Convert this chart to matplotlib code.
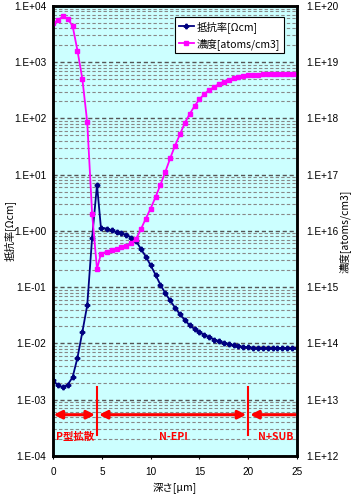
import matplotlib
matplotlib.use("Agg")
import matplotlib.pyplot as plt
import numpy as np
from matplotlib.ticker import LogLocator, FuncFormatter, NullFormatter

plt.rcParams['font.family'] = ['Noto Sans CJK JP', 'DejaVu Sans']

# =========================
# DATA
# =========================

depth = [0, 0.5, 1, 1.5, 2, 2.5, 3, 3.5, 4, 4.5, 4.9,
         5.5, 6, 6.5, 7, 7.5, 8, 8.5, 9, 9.5, 10,
         10.5, 11, 11.5, 12, 12.5, 13, 13.5, 14, 14.5, 15,
         15.5, 16, 16.5, 17, 17.5, 18, 18.5, 19, 19.5, 20,
         20.5, 21, 21.5, 22, 22.5, 23, 23.5, 24, 24.5, 25]

resistivity = [2.2e-3, 1.8e-3, 1.65e-3, 1.85e-3, 2.5e-3, 5.6e-3, 1.6e-2, 4.8e-2, 0.76, 6.6, 1.15,
               1.10, 1.02, 0.95, 0.91, 0.85, 0.76, 0.66, 0.48, 0.35, 0.245,
               0.166, 0.11, 0.078, 0.058, 0.043, 0.033, 0.026, 0.021, 0.018, 0.0158,
               0.0141, 0.0129, 0.0117, 0.011, 0.0102, 0.0098, 0.0093, 0.0089, 0.0087, 0.0085,
               0.0084, 0.0083, 0.0083, 0.0083, 0.0083, 0.0083, 0.0083, 0.0083, 0.0083, 0.0083]

concentration = [4.9e19, 5.6e19, 6.5e19, 5.9e19, 4.4e19, 1.6e19, 5.0e18, 8.5e17, 2.0e16, 2.1e15, 3.9e15,
                 4.3e15, 4.6e15, 4.8e15, 5.1e15, 5.5e15, 6.0e15, 7.2e15, 1.07e16, 1.66e16, 2.5e16,
                 4.0e16, 6.6e16, 1.12e17, 1.95e17, 3.3e17, 5.2e17, 8.3e17, 1.2e18, 1.66e18, 2.2e18,
                 2.7e18, 3.2e18, 3.6e18, 4.1e18, 4.5e18, 4.9e18, 5.2e18, 5.5e18, 5.75e18, 5.9e18,
                 6.0e18, 6.0e18, 6.1e18, 6.1e18, 6.2e18, 6.2e18, 6.2e18, 6.2e18, 6.2e18, 6.2e18]

region_bounds = [0, 4.5, 20, 25]
region_labels = ["P型拡散", "N-EPI", "N+SUB"]
region_label_x = [2.25, 12.3, 22.8]

# =========================
# FIGURE
# =========================

tickfont = ['Liberation Sans', 'DejaVu Sans']

fig = plt.figure(figsize=(3.54, 4.95), dpi=100)
ax = fig.add_axes([0.150, 0.079, 0.689, 0.909])
ax.set_facecolor('#CCFFFF')

fmt = FuncFormatter(lambda v, p: "1.E%+03d" % int(round(np.log10(v))))

ax.set_yscale('log')
ax.set_ylim(1e-4, 1e4)
ax.set_xlim(0, 25)
ax.set_xticks([0, 5, 10, 15, 20, 25])
ax.yaxis.set_major_locator(LogLocator(base=10, numticks=20))
ax.yaxis.set_minor_locator(LogLocator(base=10, subs=np.arange(2, 10), numticks=20))
ax.yaxis.set_major_formatter(fmt)
ax.yaxis.set_minor_formatter(NullFormatter())

ax.grid(True, which='major', axis='y', color='#555555', linestyle=(0, (3, 2)), linewidth=1.0)
ax.grid(True, which='minor', axis='y', color='#888888', linestyle=(0, (3, 2)), linewidth=0.8)
ax.set_axisbelow(True)

ax.tick_params(axis='both', which='both', labelsize=7.2, length=0, pad=5,
               labelfontfamily=tickfont)
ax.tick_params(axis='x', length=2, direction='out', pad=6)

for s in ax.spines.values():
    s.set_linewidth(1.8)
    s.set_color('black')

line1, = ax.plot(depth, resistivity, color='#000080', marker='P', markersize=3.2,
                 linewidth=1.3, label='抵抗率[Ωcm]')

# region markers
arrow_y = 5.4e-4
for xb in region_bounds[1:3]:
    ax.plot([xb, xb], [1.7e-3, 2.35e-4], color='red', linewidth=1.5)

arrow_kw = dict(color='red', lw=2.2, mutation_scale=12, shrinkA=0, shrinkB=0)
ax.annotate('', xy=(0.05, arrow_y), xytext=(4.3, arrow_y),
            arrowprops=dict(arrowstyle='<|-|>', **arrow_kw))
ax.annotate('', xy=(4.7, arrow_y), xytext=(19.8, arrow_y),
            arrowprops=dict(arrowstyle='<|-|>', **arrow_kw))
ax.annotate('', xy=(20.2, arrow_y), xytext=(25, arrow_y),
            arrowprops=dict(arrowstyle='-|>', **arrow_kw))

for lx, lab in zip(region_label_x, region_labels):
    ax.text(lx, 2.2e-4, lab, color='red', fontsize=7.5, fontweight='bold',
            ha='center', va='center')

ax.set_xlabel('深さ[μm]', fontsize=7.5)
ax.xaxis.set_label_coords(0.5, -0.06)
ax.set_ylabel('抵抗率[Ωcm]', fontsize=7.5)
ax.yaxis.set_label_coords(-0.155, 0.5)

# =========================
# RIGHT AXIS
# =========================

ax2 = ax.twinx()
ax2.set_yscale('log')
ax2.set_ylim(1e12, 1e20)
ax2.yaxis.set_major_locator(LogLocator(base=10, numticks=20))
ax2.yaxis.set_minor_locator(LogLocator(base=10, subs=np.arange(2, 10), numticks=20))
ax2.yaxis.set_major_formatter(fmt)
ax2.yaxis.set_minor_formatter(NullFormatter())
ax2.tick_params(axis='y', which='both', labelsize=7.2, length=0, pad=7,
                labelfontfamily=tickfont)
for s in ax2.spines.values():
    s.set_linewidth(1.8)

line2, = ax2.plot(depth, concentration, color='#FF00FF', marker='s', markersize=3.2,
                  linewidth=1.3, label='濃度[atoms/cm3]')

ax2.set_ylabel('濃度[atoms/cm3]', fontsize=7.5)
ax2.yaxis.set_label_coords(1.17, 0.5)

leg = ax2.legend(handles=[line1, line2], loc='upper right',
                 bbox_to_anchor=(0.967, 0.987), fontsize=7.5, fancybox=False,
                 framealpha=1, edgecolor='black', handlelength=1.4,
                 handletextpad=0.3, borderpad=0.35, labelspacing=0.5)
leg.get_frame().set_linewidth(0.8)

plt.savefig("out.png", dpi=100)
